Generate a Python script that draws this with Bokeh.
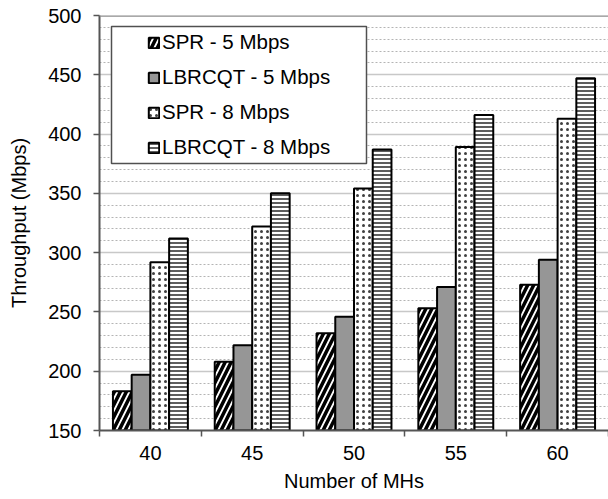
import numpy as np
from bokeh.plotting import figure
from bokeh.models import (Range1d, FixedTicker, SingleIntervalTicker, Span, BoxAnnotation,
                          Legend, LegendItem, ColumnDataSource)
from bokeh.embed import file_html
from bokeh.resources import INLINE

# ---------------- data ----------------
categories = ["40", "45", "50", "55", "60"]
spr_5 = [183, 208, 232, 253, 273]
lbrcqt_5 = [197, 222, 246, 271, 294]
spr_8 = [292, 322, 354, 389, 413]
lbrcqt_8 = [312, 350, 387, 416, 447]
series_labels = ["SPR - 5 Mbps", "LBRCQT - 5 Mbps", "SPR - 8 Mbps", "LBRCQT - 8 Mbps"]
y_min, y_max, y_step = 150, 500, 50
x_title = "Number of MHs"
y_title = "Throughput (Mbps)"

# ---------------- styles ----------------
FONT = "Liberation Sans"
AXIS_COL = "#555555"
series_values = [spr_5, lbrcqt_5, spr_8, lbrcqt_8]
offsets = [-0.276, -0.092, 0.092, 0.276]
bar_w = 0.184
styles = [
    dict(fill_color="white", hatch_pattern="/", hatch_color="black", hatch_weight=3.5, hatch_scale=12),
    dict(fill_color="#969696"),
    dict(fill_color="white", hatch_pattern=".", hatch_color="#404040", hatch_weight=1.5, hatch_scale=6),
    dict(fill_color="white", hatch_pattern="-", hatch_color="#5e5e5e", hatch_weight=2, hatch_scale=4),
]

n = len(categories)
p = figure(width=608, height=499, output_backend="svg", toolbar_location=None,
           x_range=Range1d(0, n), y_range=Range1d(y_min, y_max),
           min_border_left=99, min_border_right=0, min_border_top=15, min_border_bottom=69)
p.outline_line_color = None
p.background_fill_color = "white"

centers = np.arange(n) + 0.5
renderers = []
for vals, off, st in zip(series_values, offsets, styles):
    src = ColumnDataSource(dict(x=centers + off, top=vals))
    r = p.vbar(x="x", top="top", bottom=y_min, width=bar_w, source=src,
               line_color="black", line_width=2, **st)
    renderers.append(r)

# ---- axes ----
xa = p.xaxis[0]
xa.ticker = FixedTicker(ticks=list(centers), minor_ticks=list(np.arange(n + 1)))
xa.major_label_overrides = {float(c): lab for c, lab in zip(centers, categories)}
xa.major_tick_line_color = None
xa.major_tick_out = 6
xa.major_tick_in = 0
xa.minor_tick_in = 0
xa.minor_tick_out = 6
xa.minor_tick_line_color = AXIS_COL
xa.minor_tick_line_width = 1.5
xa.axis_line_color = AXIS_COL
xa.axis_line_width = 2
xa.major_label_standoff = 9
xa.axis_label = x_title
xa.axis_label_standoff = 7

ya = p.yaxis[0]
ya.ticker = SingleIntervalTicker(interval=y_step, num_minor_ticks=5)
ya.major_tick_in = 0
ya.major_tick_out = 6
ya.major_tick_line_color = AXIS_COL
ya.major_tick_line_width = 1.5
ya.minor_tick_line_color = None
ya.axis_line_color = AXIS_COL
ya.axis_line_width = 2
ya.major_label_standoff = 12
ya.axis_label = y_title
ya.axis_label_standoff = 15

for ax in (xa, ya):
    ax.major_label_text_font = FONT
    ax.major_label_text_font_size = "20px"
    ax.major_label_text_color = "black"
    ax.axis_label_text_font = FONT
    ax.axis_label_text_font_size = "20px"
    ax.axis_label_text_font_style = "normal"
    ax.axis_label_text_color = "black"

# top border line of the plot area
p.add_layout(Span(location=y_max, dimension="width", line_color="#8c8c8c", line_width=2.5))

# ---- grid ----
p.xgrid.visible = False
p.ygrid.grid_line_color = "#c8c8c8"
p.ygrid.grid_line_width = 1.5
p.ygrid.minor_grid_line_color = "#b4b4b4"
p.ygrid.minor_grid_line_dash = "2 2"
p.ygrid.minor_grid_line_width = 1

# ---- legend (frame box + items) ----
legend_box = BoxAnnotation(left=12, right=267, bottom=267, top=404,
                           left_units="screen", right_units="screen",
                           bottom_units="screen", top_units="screen",
                           fill_color="white", fill_alpha=1,
                           line_color="#505050", line_width=1.5, line_alpha=1)
p.add_layout(legend_box)

items_leg = Legend(items=[LegendItem(label=lab, renderers=[r]) for lab, r in zip(series_labels, renderers)],
                   location=(48, 271), margin=0, padding=0, spacing=11,
                   glyph_width=13, glyph_height=13, label_height=23, label_standoff=2,
                   label_text_font=FONT, label_text_font_size="20.5px", label_text_color="black",
                   border_line_color=None, background_fill_alpha=0)
p.add_layout(items_leg, "center")

open("out.html", "w").write(file_html(p, INLINE))
